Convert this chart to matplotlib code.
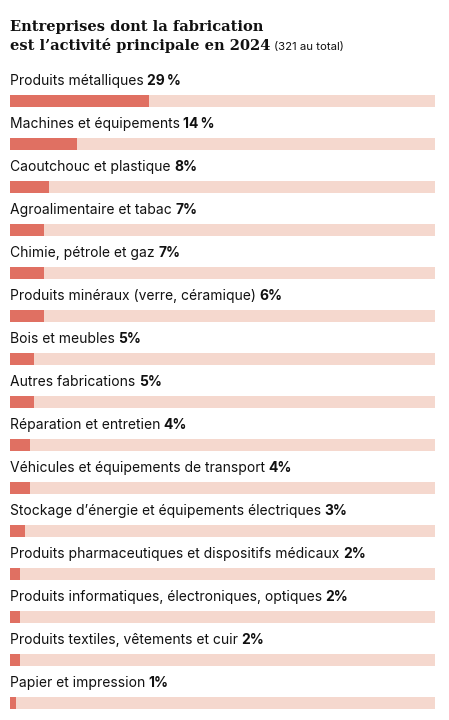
import matplotlib
matplotlib.use("Agg")
import matplotlib.pyplot as plt
from matplotlib.transforms import Affine2D

# data
categories = [
    "Produits métalliques",
    "Machines et équipements",
    "Caoutchouc et plastique",
    "Agroalimentaire et tabac",
    "Chimie, pétrole et gaz",
    "Produits minéraux (verre, céramique)",
    "Bois et meubles",
    "Autres fabrications",
    "Réparation et entretien",
    "Véhicules et équipements de transport",
    "Stockage d’énergie et équipements électriques",
    "Produits pharmaceutiques et dispositifs médicaux",
    "Produits informatiques, électroniques, optiques",
    "Produits textiles, vêtements et cuir",
    "Papier et impression",
]
# bar lengths as measured (the labels are rounded)
values = [29, 14, 8.2, 7.2, 7.2, 7.2, 5.1, 5.1, 4.2, 4.2, 3.1, 2.1, 2.1, 2.1, 1.2]
pct_labels = ["29\u2009%", "14\u2009%", "8%", "7%", "7%", "6%", "5%", "5%", "4%", "4%",
              "3%", "2%", "2%", "2%", "1%"]
track_max = 88.7

BAR = "#e07062"
TRACK = "#f5d8ce"
INK = "#111111"
W, H = 449, 720
FONT = "Inter"

fig = plt.figure(figsize=(W / 100, H / 100), dpi=100)

# rows 43px apart, first bar centre at y=100.5px
top_px, bot_px = 60, 720
ax = fig.add_axes([10 / W, 1 - bot_px / H, 425 / W, (bot_px - top_px) / H])
row0, step = 100.5, 43.0
ax.set_ylim((bot_px - row0) / step, (top_px - row0) / step)
ax.set_xlim(0, track_max)
ax.axis("off")

n = len(categories)
ys = list(range(n))
bh = 12 / step
ax.barh(ys, [track_max] * n, height=bh, color=TRACK, linewidth=0)
ax.barh(ys, values, height=bh, color=BAR, linewidth=0)

for i, (cat, pct) in enumerate(zip(categories, pct_labels)):
    t = ax.text(0, i - 0.30, cat, fontsize=10, family=FONT,
                ha="left", va="bottom", color=INK)
    ax.annotate(pct, xy=(1, 0), xycoords=t, xytext=(2.5, 0),
                textcoords="offset points", fontsize=10, family=FONT,
                fontweight="bold", ha="left", va="bottom", color=INK)

# title
fig.text(10 / W, 1 - 31.5 / H, "Entreprises dont la fabrication", fontsize=10.5,
         family="DejaVu Serif", fontweight="bold", va="baseline", color=INK)
tt = fig.text(10 / W, 1 - 50 / H, "est l’activité principale en 2024", fontsize=10.5,
              family="DejaVu Serif", fontweight="bold", va="baseline", color=INK)
fig.canvas.draw()
bb = tt.get_window_extent()
fig.text(0, 0, "(321 au total)", fontsize=8.2, family=FONT, va="baseline",
         color=INK, transform=Affine2D().translate(bb.x1 + 4, H - 50))

fig.savefig("out.png", dpi=100)
